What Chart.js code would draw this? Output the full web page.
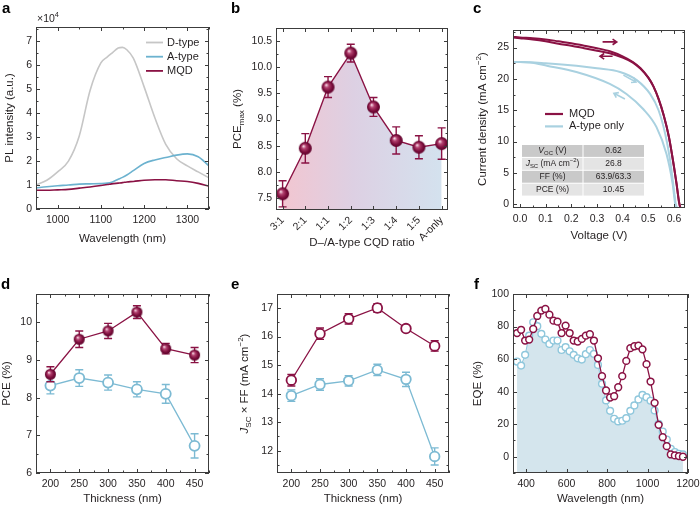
<!DOCTYPE html>
<html>
<head>
<meta charset="utf-8">
<script src="https://cdn.jsdelivr.net/npm/chart.js@4.4.0/dist/chart.umd.min.js"></script>
<style>
  html, body { margin: 0; padding: 0; background: #fff; }
  #wrap { position: relative; width: 700px; height: 506px; overflow: hidden; }
  canvas { position: absolute; }
</style>
</head>
<body>
<div id="wrap">
  <canvas id="pa" width="230" height="253" style="left:0;top:0"></canvas>
  <canvas id="pb" width="230" height="253" style="left:230px;top:0"></canvas>
  <canvas id="pc" width="240" height="253" style="left:460px;top:0"></canvas>
  <canvas id="pd" width="230" height="253" style="left:0;top:253px"></canvas>
  <canvas id="pe" width="230" height="253" style="left:230px;top:253px"></canvas>
  <canvas id="pf" width="240" height="253" style="left:460px;top:253px"></canvas>
</div>
<script>
// ---- a: PL spectra (x10^4 counts)
const plWavelength = [950, 975, 1000, 1025, 1050, 1075, 1100, 1115, 1125, 1140, 1150, 1160, 1175, 1200, 1225, 1250, 1275, 1300, 1325, 1350];
const plDtype = [1.0, 1.2, 1.55, 2.0, 3.05, 4.95, 6.1, 6.35, 6.5, 6.72, 6.75, 6.65, 6.3, 5.1, 3.8, 2.7, 2.1, 1.8, 1.55, 1.3];
const plAtype = [0.88, 0.93, 0.97, 1.0, 1.04, 1.05, 1.06, 1.08, 1.12, 1.24, 1.32, 1.42, 1.6, 1.9, 2.05, 2.15, 2.25, 2.3, 2.18, 1.8];
const plMqd = [0.78, 0.78, 0.8, 0.82, 0.87, 0.92, 0.98, 1.02, 1.05, 1.08, 1.1, 1.13, 1.15, 1.2, 1.22, 1.22, 1.18, 1.15, 1.07, 0.95];

// ---- b: PCEmax vs D/A ratio
const ratios = ['3:1', '2:1', '1:1', '1:2', '1:3', '1:4', '1:5', 'A-only'];
const pceMax = [7.58, 8.45, 9.62, 10.27, 9.24, 8.6, 8.47, 8.54];
const pceMaxErr = [0.25, 0.28, 0.2, 0.17, 0.18, 0.26, 0.22, 0.3];

// ---- c: J-V curves
const mqdFwdV = [-0.027, 0, 0.05, 0.1, 0.15, 0.2, 0.25, 0.3, 0.35, 0.4, 0.44, 0.47, 0.5, 0.52, 0.54, 0.56, 0.58, 0.6, 0.61, 0.62, 0.625];
const mqdFwdJ = [26.7, 26.6, 26.5, 26.3, 26.0, 25.7, 25.3, 24.9, 24.4, 23.6, 22.7, 21.7, 20.2, 18.8, 16.8, 14.2, 10.8, 6.0, 3.3, 0.3, -0.6];
const mqdRevV = [-0.027, 0, 0.05, 0.1, 0.15, 0.2, 0.25, 0.3, 0.35, 0.4, 0.44, 0.47, 0.5, 0.52, 0.54, 0.56, 0.58, 0.6, 0.61, 0.62, 0.625];
const mqdRevJ = [26.6, 26.5, 26.3, 26.0, 25.6, 25.3, 24.9, 24.5, 24.1, 23.4, 22.6, 21.6, 20.2, 18.8, 16.8, 14.2, 10.8, 6.0, 3.3, 0.3, -0.6];
const aFwdV = [-0.027, 0, 0.1, 0.22, 0.3, 0.39, 0.455, 0.507, 0.54, 0.566, 0.585, 0.602, 0.607, 0.612];
const aFwdJ = [22.7, 22.7, 22.5, 22.1, 21.7, 21.1, 19.8, 17.6, 15.0, 11.2, 7.0, 1.6, 0, -0.6];
const aRevV = [-0.027, 0, 0.04, 0.105, 0.22, 0.35, 0.415, 0.48, 0.532, 0.571, 0.595, 0.605, 0.61];
const aRevJ = [22.7, 22.7, 22.6, 22.1, 21.1, 19.2, 17.6, 15.2, 12.3, 8.0, 3.2, 0, -0.6];
const tableValues = ['0.62', '26.8', '63.9/63.3', '10.45'];

// ---- d, e: thickness series
const thickness = [200, 250, 300, 350, 400, 450];
const pceMqd = [8.62, 9.55, 9.77, 10.27, 9.3, 9.13];
const pceMqdErr = [0.2, 0.22, 0.2, 0.17, 0.14, 0.2];
const pceA = [8.32, 8.52, 8.4, 8.22, 8.1, 6.72];
const pceAErr = [0.22, 0.22, 0.2, 0.2, 0.25, 0.32];
const jffMqd = [14.47, 16.1, 16.62, 17.0, 16.28, 15.67];
const jffMqdErr = [0.2, 0.2, 0.18, 0.15, 0.1, 0.18];
const jffA = [13.93, 14.32, 14.45, 14.83, 14.5, 11.8];
const jffAErr = [0.2, 0.2, 0.18, 0.2, 0.25, 0.3];

// ---- f: EQE
const eqeWl = [355, 375, 395, 415, 435, 455, 475, 495, 515, 535, 555, 575, 595, 615, 635, 655, 675, 695, 715, 735, 755,
  775, 795, 815, 835, 855, 875, 895, 915, 935, 955, 975, 995, 1015, 1035, 1055, 1075, 1095, 1115, 1135, 1155, 1175];
const eqeMqd = [76, 78, 71.4, 72, 78.5, 86.5, 89.8, 90.8, 87.3, 83.6, 83, 76, 80.6, 76, 71.4, 70.8, 72.4, 74.4, 75.3, 71.4, 60.5,
  49.5, 40.7, 36.4, 37.2, 42.7, 49.5, 58.9, 66.7, 67.9, 68.3, 66, 56.9, 46.2, 33.1, 19.6, 12, 6.5, 1.4, 0.8, 0.4, 0];
const eqeA = [58.5, 56, 62.6, 74.4, 82.6, 80.2, 75.5, 72, 69.3, 71.4, 71.4, 65.6, 67.3, 64.8, 62.6, 60.5, 59.7, 63, 65.6, 63.2, 56.4,
  44.8, 34.6, 28.2, 23.3, 21.7, 22.1, 23.7, 28.2, 31.5, 35.2, 38, 36.6, 34.4, 28.4, 20.2, 15.5, 10.6, 4.9, 2.9, 1.8, 1.4];

const FONT = '"Liberation Sans", Arial, Helvetica, sans-serif';
const TXT = '#231f20';
const MAROON = '#8a1244';
const BLUE = '#7cbad3';
const PALE = '#a9d1e0';
Chart.defaults.font.family = FONT;
Chart.defaults.color = TXT;

const xy = (xs, ys) => xs.map((x, i) => ({x, y: ys[i]}));

function sphere(r) {
  const c = document.createElement('canvas');
  c.width = c.height = 2 * r + 2;
  const g = c.getContext('2d');
  const grad = g.createRadialGradient(r + 1 - r * 0.3, r + 1 - r * 0.35, r * 0.05, r + 1, r + 1, r);
  grad.addColorStop(0, '#f7dde8');
  grad.addColorStop(0.3, '#b3416f');
  grad.addColorStop(0.7, '#7c0e3c');
  grad.addColorStop(1, '#5c0029');
  g.fillStyle = grad;
  g.beginPath();
  g.arc(r + 1, r + 1, r, 0, Math.PI * 2);
  g.fill();
  return c;
}

function lineSet(xs, ys, color, width, extra) {
  return Object.assign({
    data: xy(xs, ys), borderColor: color, borderWidth: width,
    pointRadius: 0, fill: false, cubicInterpolationMode: 'monotone'
  }, extra || {});
}

function rich(ctx, parts, x, y, size, rot, align) {
  ctx.save();
  ctx.translate(x, y);
  if (rot) ctx.rotate(rot);
  const small = p => p[1] === 'sub' || p[1] === 'sup';
  const fontOf = p => (p[1] === 'i' ? 'italic ' : '') + (small(p) ? size * 0.7 : size) + 'px ' + FONT;
  let w = 0;
  parts.forEach(p => { ctx.font = fontOf(p); w += ctx.measureText(p[0]).width; });
  let cx = align === 'left' ? 0 : -w / 2;
  ctx.textBaseline = 'middle';
  ctx.textAlign = 'left';
  ctx.fillStyle = TXT;
  parts.forEach(p => {
    ctx.font = fontOf(p);
    const dy = p[1] === 'sub' ? size * 0.3 : p[1] === 'sup' ? -size * 0.38 : 0;
    ctx.fillText(p[0], cx, dy);
    cx += ctx.measureText(p[0]).width;
  });
  ctx.restore();
}

function letter(ctx, t, x, y) {
  ctx.save();
  ctx.font = 'bold 15px ' + FONT;
  ctx.fillStyle = '#000';
  ctx.textBaseline = 'alphabetic';
  ctx.fillText(t, x, y);
  ctx.restore();
}

function legendItems(ctx, items, x1, x2, tx, y0, dy, lw) {
  ctx.save();
  items.forEach(([label, color], i) => {
    const y = y0 + i * dy;
    ctx.strokeStyle = color;
    ctx.lineWidth = lw;
    ctx.beginPath(); ctx.moveTo(x1, y); ctx.lineTo(x2, y); ctx.stroke();
    ctx.fillStyle = TXT;
    ctx.font = '11px ' + FONT;
    ctx.textBaseline = 'middle';
    ctx.fillText(label, tx, y);
  });
  ctx.restore();
}

function arrow(chart, v1, j1, v2, j2, color) {
  const {ctx, scales: {x, y}} = chart;
  const ax = x.getPixelForValue(v1), ay = y.getPixelForValue(j1);
  const bx = x.getPixelForValue(v2), by = y.getPixelForValue(j2);
  const ang = Math.atan2(by - ay, bx - ax);
  ctx.save();
  ctx.strokeStyle = color; ctx.lineWidth = 1.6;
  ctx.beginPath();
  ctx.moveTo(ax, ay); ctx.lineTo(bx, by);
  ctx.moveTo(bx - 5 * Math.cos(ang - 0.6), by - 5 * Math.sin(ang - 0.6));
  ctx.lineTo(bx, by);
  ctx.lineTo(bx - 5 * Math.cos(ang + 0.6), by - 5 * Math.sin(ang + 0.6));
  ctx.stroke();
  ctx.restore();
}

function frameTicks(chart, xMinor, yMinor) {
  const {ctx, chartArea: a, scales: {x, y}} = chart;
  ctx.save();
  ctx.strokeStyle = '#3c3c3c';
  ctx.lineWidth = 1;
  ctx.strokeRect(Math.round(a.left) + 0.5, Math.round(a.top) + 0.5, Math.round(a.right - a.left) - 1, Math.round(a.bottom - a.top) - 1);
  const minors = (s, step) => {
    const out = [];
    if (!step) return out;
    for (let k = Math.ceil(s.min / step); k * step <= s.max; k++) {
      const v = k * step;
      if (!s.ticks.some(t => Math.abs(t.value - v) < step * 0.01)) out.push(v);
    }
    return out;
  };
  ctx.beginPath();
  const xt = (v, len) => {
    const p = Math.round(x.getPixelForValue(v)) + 0.5;
    ctx.moveTo(p, a.bottom); ctx.lineTo(p, a.bottom - len);
    ctx.moveTo(p, a.top); ctx.lineTo(p, a.top + len);
  };
  const yt = (v, len) => {
    const p = Math.round(y.getPixelForValue(v)) + 0.5;
    ctx.moveTo(a.left, p); ctx.lineTo(a.left + len, p);
    ctx.moveTo(a.right, p); ctx.lineTo(a.right - len, p);
  };
  x.ticks.forEach(t => xt(t.value, 4));
  y.ticks.forEach(t => yt(t.value, 4));
  minors(x, xMinor).forEach(v => xt(v, 2.5));
  minors(y, yMinor).forEach(v => yt(v, 2.5));
  ctx.stroke();
  ctx.restore();
}

function makeChart(id, o) {
  const axis = (a, horiz, size) => ({
    type: 'linear',
    min: a.min, max: a.max,
    afterBuildTicks: s => { s.ticks = a.majors.map(v => ({value: v})); },
    afterFit: s => {
      if (horiz) s.height = size; else s.width = size;
      s.paddingLeft = s.paddingRight = s.paddingTop = s.paddingBottom = 0;
    },
    grid: {display: false, drawTicks: false},
    border: {display: false},
    ticks: {
      autoSkip: false, padding: a.tickPad, color: TXT,
      font: {family: FONT, size: 10.5},
      maxRotation: a.rot || 0, minRotation: a.rot || 0,
      callback: v => a.fmt(v)
    },
    title: a.title
      ? {display: true, text: a.title, color: TXT, font: {family: FONT, size: 11.5}, padding: {top: a.titlePad, bottom: a.titlePad}}
      : {display: false}
  });
  return new Chart(document.getElementById(id), {
    type: 'line',
    data: {datasets: o.datasets},
    options: {
      responsive: false,
      animation: false,
      devicePixelRatio: 1,
      layout: {padding: {top: o.pad[0], right: o.pad[1], bottom: 0, left: 0}},
      plugins: {legend: {display: false}, tooltip: {enabled: false}},
      scales: {x: axis(o.x, true, o.pad[2]), y: axis(o.y, false, o.pad[3])}
    },
    plugins: [{
      id: 'decor',
      beforeDatasetDraw(chart, args) {
        const ds = chart.data.datasets[args.index];
        if (!ds.errors) return;
        const {ctx} = chart, ys = chart.scales.y;
        ctx.save();
        ctx.strokeStyle = ds.borderColor;
        ctx.lineWidth = 1.4;
        ctx.beginPath();
        args.meta.data.forEach((pt, i) => {
          const v = ds.data[i].y, e = ds.errors[i];
          const y1 = ys.getPixelForValue(v - e), y2 = ys.getPixelForValue(v + e);
          ctx.moveTo(pt.x, y1); ctx.lineTo(pt.x, y2);
          ctx.moveTo(pt.x - 4, y1); ctx.lineTo(pt.x + 4, y1);
          ctx.moveTo(pt.x - 4, y2); ctx.lineTo(pt.x + 4, y2);
        });
        ctx.stroke();
        ctx.restore();
      },
      afterDraw(chart) {
        frameTicks(chart, o.x.minor, o.y.minor);
        if (o.decor) o.decor(chart.ctx, chart);
      }
    }]
  });
}

const num = v => String(v);
const fix1 = v => v.toFixed(1);

// a
makeChart('pa', {
  pad: [27, 21, 44, 36],
  x: {min: 950, max: 1350, majors: [1000, 1100, 1200, 1300], minor: 50, fmt: num, tickPad: 5, title: 'Wavelength (nm)', titlePad: 7},
  y: {min: 0, max: 7.6, majors: [0, 1, 2, 3, 4, 5, 6, 7], minor: 0.5, fmt: num, tickPad: 4, title: 'PL intensity (a.u.)', titlePad: 3},
  datasets: [
    lineSet(plWavelength, plMqd, MAROON, 1.6),
    lineSet(plWavelength, plAtype, '#6cb2cf', 1.6),
    lineSet(plWavelength, plDtype, '#c6c6c6', 1.6)
  ],
  decor(ctx) {
    letter(ctx, 'a', 2, 13);
    rich(ctx, [['×10'], ['4', 'sup']], 37, 19, 10.5, 0, 'left');
    legendItems(ctx, [['D-type', '#c6c6c6'], ['A-type', '#6cb2cf'], ['MQD', MAROON]], 146, 163, 167, 42.5, 14.2, 1.8);
  }
});

// b
makeChart('pb', {
  pad: [28, 12, 43, 46],
  x: {min: -0.29, max: 7.28, majors: ratios.map((_, i) => i), minor: 0, fmt: v => ratios[v], tickPad: 4, rot: 45,
    title: 'D–/A-type CQD ratio', titlePad: 3},
  y: {min: 7.27, max: 10.75, majors: [7.5, 8, 8.5, 9, 9.5, 10, 10.5], minor: 0.25, fmt: fix1, tickPad: 4},
  datasets: [{
    data: xy(ratios.map((_, i) => i), pceMax),
    errors: pceMaxErr,
    borderColor: MAROON, borderWidth: 1.4,
    pointStyle: sphere(6.5), pointRadius: 6,
    fill: 'start',
    backgroundColor: ctx => {
      const ca = ctx.chart.chartArea;
      if (!ca) return 'rgba(0,0,0,0)';
      const g = ctx.chart.ctx.createLinearGradient(ca.left, 0, ca.right, 0);
      g.addColorStop(0, '#f4c5cf');
      g.addColorStop(0.45, '#ddd0e3');
      g.addColorStop(1, '#d3e3ef');
      return g;
    }
  }],
  decor(ctx, chart) {
    letter(ctx, 'b', 1, 13);
    const a = chart.chartArea;
    rich(ctx, [['PCE'], ['max', 'sub'], [' (%)']], 8, (a.top + a.bottom) / 2, 11.5, -Math.PI / 2);
  }
});

// c
makeChart('pc', {
  pad: [30, 15, 45, 53],
  x: {min: -0.027, max: 0.643, majors: [0, 0.1, 0.2, 0.3, 0.4, 0.5, 0.6], minor: 0.05, fmt: fix1, tickPad: 5, title: 'Voltage (V)', titlePad: 10},
  y: {min: -0.6, max: 27.8, majors: [0, 5, 10, 15, 20, 25], minor: 2.5, fmt: num, tickPad: 4},
  datasets: [
    lineSet(mqdFwdV, mqdFwdJ, MAROON, 2),
    lineSet(mqdRevV, mqdRevJ, MAROON, 2),
    lineSet(aFwdV, aFwdJ, PALE, 2),
    lineSet(aRevV, aRevJ, PALE, 2)
  ],
  decor(ctx, chart) {
    letter(ctx, 'c', 13, 13);
    const a = chart.chartArea;
    rich(ctx, [['Current density (mA cm'], ['−2', 'sup'], [')']], 23, (a.top + a.bottom) / 2, 11.5, -Math.PI / 2);
    arrow(chart, 0.322, 25.9, 0.377, 25.9, MAROON);
    arrow(chart, 0.361, 23.6, 0.312, 23.6, MAROON);
    arrow(chart, 0.403, 20.6, 0.452, 19.5, PALE);
    arrow(chart, 0.409, 16.8, 0.366, 17.7, PALE);
    legendItems(ctx, [['MQD', MAROON], ['A-type only', PALE]], 85, 103, 109, 114, 12.4, 2.2);
    // table
    const labels = [
      [['V', 'i'], ['OC', 'sub'], [' (V)']],
      [['J', 'i'], ['SC', 'sub'], [' (mA cm'], ['−2', 'sup'], [')']],
      [['FF (%)']],
      [['PCE (%)']]
    ];
    const tl = 62, tm = 123, tr = 184, t0 = 145, rh = 12.9;
    labels.forEach((lab, i) => {
      const top = t0 + i * rh;
      ctx.fillStyle = i % 2 ? '#e4e4e4' : '#c9c9c9';
      ctx.fillRect(tl, top, tm - tl - 0.5, rh - 1);
      ctx.fillRect(tm + 0.5, top, tr - tm - 0.5, rh - 1);
      rich(ctx, lab, (tl + tm) / 2, top + rh / 2 - 0.5, 8.5, 0);
      rich(ctx, [[tableValues[i]]], (tm + tr) / 2, top + rh / 2 - 0.5, 8.5, 0);
    });
  }
});

// d
makeChart('pd', {
  pad: [41, 21, 33, 36],
  x: {min: 175, max: 475, majors: thickness, minor: 25, fmt: num, tickPad: 5, title: 'Thickness (nm)', titlePad: 0},
  y: {min: 6, max: 10.75, majors: [6, 7, 8, 9, 10], minor: 0.5, fmt: num, tickPad: 4, title: 'PCE (%)', titlePad: 0},
  datasets: [
    {data: xy(thickness, pceMqd), errors: pceMqdErr, borderColor: MAROON, borderWidth: 1.3,
      pointStyle: sphere(5.5), pointRadius: 5.5},
    {data: xy(thickness, pceA), errors: pceAErr, borderColor: BLUE, borderWidth: 1.3,
      pointStyle: 'circle', pointRadius: 5, pointBorderWidth: 1.8, pointBackgroundColor: '#fff', pointBorderColor: BLUE}
  ],
  decor(ctx) { letter(ctx, 'd', 1, 36); }
});

// e
makeChart('pe', {
  pad: [41, 11, 33, 47],
  x: {min: 175, max: 475, majors: thickness, minor: 25, fmt: num, tickPad: 5, title: 'Thickness (nm)', titlePad: 0},
  y: {min: 11.22, max: 17.49, majors: [12, 13, 14, 15, 16, 17], minor: 0.5, fmt: num, tickPad: 4},
  datasets: [
    {data: xy(thickness, jffMqd), errors: jffMqdErr, borderColor: MAROON, borderWidth: 1.3,
      pointStyle: 'circle', pointRadius: 4.8, pointBorderWidth: 1.8, pointBackgroundColor: '#fff', pointBorderColor: MAROON},
    {data: xy(thickness, jffA), errors: jffAErr, borderColor: BLUE, borderWidth: 1.3,
      pointStyle: 'circle', pointRadius: 4.8, pointBorderWidth: 1.8, pointBackgroundColor: '#fff', pointBorderColor: BLUE}
  ],
  decor(ctx, chart) {
    letter(ctx, 'e', 1, 36);
    const a = chart.chartArea;
    rich(ctx, [['J', 'i'], ['SC', 'sub'], [' × FF (mA cm'], ['−2', 'sup'], [')']], 15, (a.top + a.bottom) / 2, 11.5, -Math.PI / 2);
  }
});

// f
makeChart('pf', {
  pad: [41, 12, 33, 53],
  x: {min: 335, max: 1200, majors: [400, 600, 800, 1000, 1200], minor: 100, fmt: num, tickPad: 5, title: 'Wavelength (nm)', titlePad: 0},
  y: {min: -10, max: 100, majors: [0, 20, 40, 60, 80, 100], minor: 10, fmt: num, tickPad: 4, title: 'EQE (%)', titlePad: 11},
  datasets: [
    {data: xy(eqeWl, eqeMqd), borderColor: MAROON, borderWidth: 1.3,
      pointStyle: 'circle', pointRadius: 3.4, pointBorderWidth: 1.5, pointBackgroundColor: '#fff', pointBorderColor: MAROON},
    {data: xy(eqeWl, eqeA), borderColor: '#8fc7dc', borderWidth: 1,
      pointStyle: 'circle', pointRadius: 3.4, pointBorderWidth: 1.4, pointBackgroundColor: '#fff', pointBorderColor: '#8fc7dc',
      fill: 'start', backgroundColor: '#d4e5ed'}
  ],
  decor(ctx) { letter(ctx, 'f', 14, 36); }
});
</script>
</body>
</html>
